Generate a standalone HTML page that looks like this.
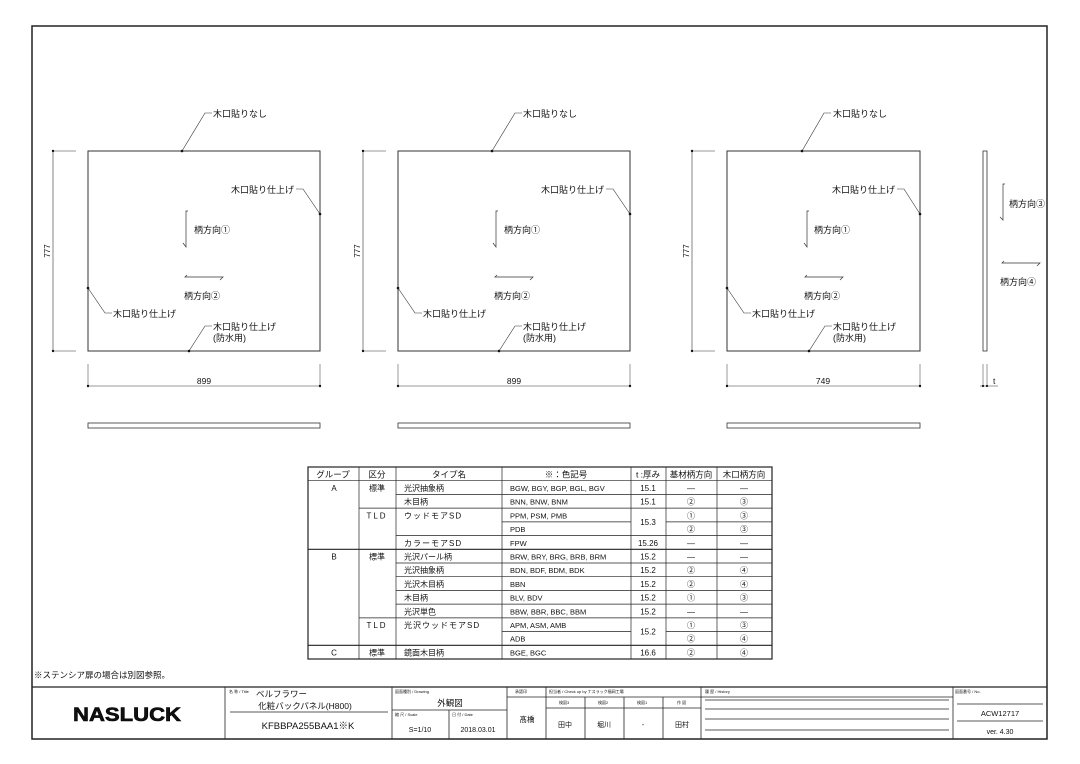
<!DOCTYPE html>
<html><head><meta charset="utf-8"><style>
html,body{margin:0;padding:0;background:#fff;}
svg{display:block;font-family:"Liberation Sans","Noto Sans CJK JP",sans-serif;}
text{fill:#111;}
</style></head><body>
<svg width="1080" height="764" viewBox="0 0 1080 764" xmlns="http://www.w3.org/2000/svg">
<rect x="0" y="0" width="1080" height="764" fill="#fff"/>
<rect x="32" y="26" width="1015" height="713" fill="none" stroke="#222" stroke-width="1.5"/>

<g stroke="#333" stroke-width="1" fill="none">
 <rect x="88" y="151" width="232" height="200"/>
 <line x1="53" y1="151" x2="53" y2="351" stroke-width="0.6"/>
 <line x1="53" y1="151" x2="76" y2="151" stroke-width="0.6"/>
 <line x1="53" y1="351" x2="76" y2="351" stroke-width="0.6"/>
 <line x1="88" y1="386" x2="320" y2="386" stroke-width="0.6"/>
 <line x1="88" y1="364" x2="88" y2="386" stroke-width="0.5"/>
 <line x1="320" y1="364" x2="320" y2="386" stroke-width="0.5"/>
 <rect x="88" y="423" width="232" height="5" stroke-width="0.8"/>
 <polyline points="182,151 205,113 212,113" stroke-width="0.6"/>
 <polyline points="296,189 303,189 320,214" stroke-width="0.6"/>
 <polyline points="88,288 105,313 112,313" stroke-width="0.6"/>
 <polyline points="189,351 205,326 212,326" stroke-width="0.6"/>
 <polyline points="188,211 186,211 186,247 183,243" stroke-width="0.7"/>
 <polyline points="187,275 185,277 223,277 220,280" stroke-width="0.7"/>

 <rect x="398" y="151" width="232" height="200"/>
 <line x1="363" y1="151" x2="363" y2="351" stroke-width="0.6"/>
 <line x1="363" y1="151" x2="386" y2="151" stroke-width="0.6"/>
 <line x1="363" y1="351" x2="386" y2="351" stroke-width="0.6"/>
 <line x1="398" y1="386" x2="630" y2="386" stroke-width="0.6"/>
 <line x1="398" y1="364" x2="398" y2="386" stroke-width="0.5"/>
 <line x1="630" y1="364" x2="630" y2="386" stroke-width="0.5"/>
 <rect x="398" y="423" width="232" height="5" stroke-width="0.8"/>
 <polyline points="492,151 515,113 522,113" stroke-width="0.6"/>
 <polyline points="606,189 613,189 630,214" stroke-width="0.6"/>
 <polyline points="398,288 415,313 422,313" stroke-width="0.6"/>
 <polyline points="499,351 515,326 522,326" stroke-width="0.6"/>
 <polyline points="498,211 496,211 496,247 493,243" stroke-width="0.7"/>
 <polyline points="497,275 495,277 533,277 530,280" stroke-width="0.7"/>

 <rect x="727" y="151" width="193" height="200"/>
 <line x1="692" y1="151" x2="692" y2="351" stroke-width="0.6"/>
 <line x1="692" y1="151" x2="715" y2="151" stroke-width="0.6"/>
 <line x1="692" y1="351" x2="715" y2="351" stroke-width="0.6"/>
 <line x1="727" y1="386" x2="920" y2="386" stroke-width="0.6"/>
 <line x1="727" y1="364" x2="727" y2="386" stroke-width="0.5"/>
 <line x1="920" y1="364" x2="920" y2="386" stroke-width="0.5"/>
 <rect x="727" y="423" width="193" height="5" stroke-width="0.8"/>
 <polyline points="802,151 824,113 831,113" stroke-width="0.6"/>
 <polyline points="897,189 904,189 920,214" stroke-width="0.6"/>
 <polyline points="727,288 744,313 751,313" stroke-width="0.6"/>
 <polyline points="809,351 825,326 832,326" stroke-width="0.6"/>
 <polyline points="809,211 807,211 807,247 804,243" stroke-width="0.7"/>
 <polyline points="807,275 805,277 843,277 840,280" stroke-width="0.7"/>

 <rect x="983" y="151" width="4" height="200" stroke-width="0.8"/>
 <line x1="983" y1="364" x2="983" y2="386" stroke-width="0.5"/>
 <line x1="987" y1="364" x2="987" y2="386" stroke-width="0.5"/>
 <line x1="980" y1="386" x2="998" y2="386" stroke-width="0.5"/>
 <polyline points="1005,184 1003,184 1003,220 1000,217" stroke-width="0.7"/>
 <polyline points="1004,261 1002,263 1040,263 1037,266" stroke-width="0.7"/>
</g>
<g fill="#111">
 <circle cx="53" cy="151" r="1.2"/><circle cx="53" cy="351" r="1.2"/><circle cx="88" cy="386" r="1.2"/><circle cx="320" cy="386" r="1.2"/>
 <circle cx="182" cy="151" r="1.3"/><circle cx="320" cy="214" r="1.3"/><circle cx="88" cy="288" r="1.3"/><circle cx="189" cy="351" r="1.3"/>
 <circle cx="363" cy="151" r="1.2"/><circle cx="363" cy="351" r="1.2"/><circle cx="398" cy="386" r="1.2"/><circle cx="630" cy="386" r="1.2"/>
 <circle cx="492" cy="151" r="1.3"/><circle cx="630" cy="214" r="1.3"/><circle cx="398" cy="288" r="1.3"/><circle cx="499" cy="351" r="1.3"/>
 <circle cx="692" cy="151" r="1.2"/><circle cx="692" cy="351" r="1.2"/><circle cx="727" cy="386" r="1.2"/><circle cx="920" cy="386" r="1.2"/>
 <circle cx="802" cy="151" r="1.3"/><circle cx="920" cy="214" r="1.3"/><circle cx="727" cy="288" r="1.3"/><circle cx="809" cy="351" r="1.3"/>
 <circle cx="983" cy="386" r="1.1"/><circle cx="987" cy="386" r="1.1"/>
</g>

<g font-size="9">
 <text x="213" y="117">木口貼りなし</text>
 <text x="294" y="193" text-anchor="end">木口貼り仕上げ</text>
 <text x="194" y="233">柄方向①</text>
 <text x="184" y="299">柄方向②</text>
 <text x="113" y="317">木口貼り仕上げ</text>
 <text x="213" y="330">木口貼り仕上げ</text>
 <text x="213" y="341">(防水用)</text>
 <text x="204" y="384" text-anchor="middle" font-size="8.5">899</text>
 <text transform="translate(50,251) rotate(-90)" text-anchor="middle" font-size="8">777</text>

 <text x="523" y="117">木口貼りなし</text>
 <text x="604" y="193" text-anchor="end">木口貼り仕上げ</text>
 <text x="504" y="233">柄方向①</text>
 <text x="494" y="299">柄方向②</text>
 <text x="423" y="317">木口貼り仕上げ</text>
 <text x="523" y="330">木口貼り仕上げ</text>
 <text x="523" y="341">(防水用)</text>
 <text x="514" y="384" text-anchor="middle" font-size="8.5">899</text>
 <text transform="translate(360,251) rotate(-90)" text-anchor="middle" font-size="8">777</text>

 <text x="833" y="117">木口貼りなし</text>
 <text x="895" y="193" text-anchor="end">木口貼り仕上げ</text>
 <text x="814" y="233">柄方向①</text>
 <text x="804" y="299">柄方向②</text>
 <text x="752" y="317">木口貼り仕上げ</text>
 <text x="833" y="330">木口貼り仕上げ</text>
 <text x="833" y="341">(防水用)</text>
 <text x="823" y="384" text-anchor="middle" font-size="8.5">749</text>
 <text transform="translate(689,251) rotate(-90)" text-anchor="middle" font-size="8">777</text>

 <text x="1009" y="207">柄方向③</text>
 <text x="1000" y="285">柄方向④</text>
 <text x="993" y="384" font-size="8.5">t</text>
</g>

<!-- Table -->
<g stroke="#222" stroke-width="0.7" fill="none">
 <rect x="308" y="467" width="464" height="192" stroke-width="1.2"/>
 <line x1="359" y1="467" x2="359" y2="659"/>
 <line x1="396" y1="467" x2="396" y2="659"/>
 <line x1="502" y1="467" x2="502" y2="659"/>
 <line x1="631" y1="467" x2="631" y2="659"/>
 <line x1="666" y1="467" x2="666" y2="659"/>
 <line x1="717" y1="467" x2="717" y2="659"/>
 <line x1="308" y1="480.7" x2="772" y2="480.7"/>
 <line x1="396" y1="494.4" x2="772" y2="494.4"/>
 <line x1="359" y1="508.1" x2="772" y2="508.1"/>
 <line x1="502" y1="521.9" x2="631" y2="521.9"/>
 <line x1="666" y1="521.9" x2="772" y2="521.9"/>
 <line x1="396" y1="535.6" x2="772" y2="535.6"/>
 <line x1="308" y1="549.3" x2="772" y2="549.3" stroke-width="1.2"/>
 <line x1="396" y1="563" x2="772" y2="563"/>
 <line x1="396" y1="576.7" x2="772" y2="576.7"/>
 <line x1="396" y1="590.4" x2="772" y2="590.4"/>
 <line x1="396" y1="604.1" x2="772" y2="604.1"/>
 <line x1="359" y1="617.9" x2="772" y2="617.9"/>
 <line x1="502" y1="631.6" x2="631" y2="631.6"/>
 <line x1="666" y1="631.6" x2="772" y2="631.6"/>
 <line x1="308" y1="645.3" x2="772" y2="645.3" stroke-width="1.2"/>
</g>
<g font-size="8.5">
 <text x="333" y="477.5" text-anchor="middle">グループ</text>
 <text x="377" y="477.5" text-anchor="middle">区分</text>
 <text x="449" y="477.5" text-anchor="middle">タイプ名</text>
 <text x="566" y="477.5" text-anchor="middle">※：色記号</text>
 <text x="648" y="477.5" text-anchor="middle">t :厚み</text>
 <text x="691" y="477.5" text-anchor="middle">基材柄方向</text>
 <text x="744" y="477.5" text-anchor="middle">木口柄方向</text>
</g>
<g font-size="8">
 <text x="334" y="491" text-anchor="middle">A</text>
 <text x="377" y="491" text-anchor="middle">標準</text>
 <text x="404" y="491">光沢抽象柄</text><text x="510" y="491" font-size="7.5">BGW, BGY, BGP, BGL, BGV</text><text x="648" y="491" text-anchor="middle">15.1</text><text x="691" y="491" text-anchor="middle">—</text><text x="744" y="491" text-anchor="middle">—</text>
 <text x="404" y="504.7">木目柄</text><text x="510" y="504.7" font-size="7.5">BNN, BNW, BNM</text><text x="648" y="504.7" text-anchor="middle">15.1</text><text x="691" y="504.7" text-anchor="middle">②</text><text x="744" y="504.7" text-anchor="middle">③</text>
 <text x="377" y="518.4" text-anchor="middle" letter-spacing="2">TLD</text>
 <text x="404" y="518.4" letter-spacing="1">ウッドモアSD</text><text x="510" y="518.4" font-size="7.5">PPM, PSM, PMB</text><text x="648" y="525" text-anchor="middle">15.3</text><text x="691" y="518.4" text-anchor="middle">①</text><text x="744" y="518.4" text-anchor="middle">③</text>
 <text x="510" y="532.1" font-size="7.5">PDB</text><text x="691" y="532.1" text-anchor="middle">②</text><text x="744" y="532.1" text-anchor="middle">③</text>
 <text x="404" y="545.8" letter-spacing="1">カラーモアSD</text><text x="510" y="545.8" font-size="7.5">FPW</text><text x="648" y="545.8" text-anchor="middle">15.26</text><text x="691" y="545.8" text-anchor="middle">—</text><text x="744" y="545.8" text-anchor="middle">—</text>
 <text x="334" y="559.5" text-anchor="middle">B</text>
 <text x="377" y="559.5" text-anchor="middle">標準</text>
 <text x="404" y="559.5">光沢パール柄</text><text x="510" y="559.5" font-size="7.5">BRW, BRY, BRG, BRB, BRM</text><text x="648" y="559.5" text-anchor="middle">15.2</text><text x="691" y="559.5" text-anchor="middle">—</text><text x="744" y="559.5" text-anchor="middle">—</text>
 <text x="404" y="573.2">光沢抽象柄</text><text x="510" y="573.2" font-size="7.5">BDN, BDF, BDM, BDK</text><text x="648" y="573.2" text-anchor="middle">15.2</text><text x="691" y="573.2" text-anchor="middle">②</text><text x="744" y="573.2" text-anchor="middle">④</text>
 <text x="404" y="586.9">光沢木目柄</text><text x="510" y="586.9" font-size="7.5">BBN</text><text x="648" y="586.9" text-anchor="middle">15.2</text><text x="691" y="586.9" text-anchor="middle">②</text><text x="744" y="586.9" text-anchor="middle">④</text>
 <text x="404" y="600.6">木目柄</text><text x="510" y="600.6" font-size="7.5">BLV, BDV</text><text x="648" y="600.6" text-anchor="middle">15.2</text><text x="691" y="600.6" text-anchor="middle">①</text><text x="744" y="600.6" text-anchor="middle">③</text>
 <text x="404" y="614.3">光沢単色</text><text x="510" y="614.3" font-size="7.5">BBW, BBR, BBC, BBM</text><text x="648" y="614.3" text-anchor="middle">15.2</text><text x="691" y="614.3" text-anchor="middle">—</text><text x="744" y="614.3" text-anchor="middle">—</text>
 <text x="377" y="628" text-anchor="middle" letter-spacing="2">TLD</text>
 <text x="404" y="628" letter-spacing="1">光沢ウッドモアSD</text><text x="510" y="628" font-size="7.5">APM, ASM, AMB</text><text x="648" y="634.6" text-anchor="middle">15.2</text><text x="691" y="628" text-anchor="middle">①</text><text x="744" y="628" text-anchor="middle">③</text>
 <text x="510" y="641.7" font-size="7.5">ADB</text><text x="691" y="641.7" text-anchor="middle">②</text><text x="744" y="641.7" text-anchor="middle">④</text>
 <text x="334" y="655.4" text-anchor="middle">C</text>
 <text x="377" y="655.4" text-anchor="middle">標準</text>
 <text x="404" y="655.4">鏡面木目柄</text><text x="510" y="655.4" font-size="7.5">BGE, BGC</text><text x="648" y="655.4" text-anchor="middle">16.6</text><text x="691" y="655.4" text-anchor="middle">②</text><text x="744" y="655.4" text-anchor="middle">④</text>
</g>

<text x="34" y="678" font-size="8.5">※ステンシア扉の場合は別図参照。</text>

<g stroke="#222" stroke-width="0.8" fill="none">
 <line x1="32" y1="687" x2="1047" y2="687" stroke-width="1.2"/>
 <line x1="225" y1="687" x2="225" y2="739"/>
 <line x1="392" y1="687" x2="392" y2="739"/>
 <line x1="507" y1="687" x2="507" y2="739"/>
 <line x1="546" y1="687" x2="546" y2="739"/>
 <line x1="701" y1="687" x2="701" y2="739"/>
 <line x1="953" y1="687" x2="953" y2="739"/>
 <line x1="230" y1="712" x2="388" y2="712"/>
 <line x1="392" y1="710" x2="507" y2="710"/>
 <line x1="449" y1="710" x2="449" y2="739"/>
 <line x1="507" y1="697" x2="701" y2="697"/>
 <line x1="546" y1="708" x2="701" y2="708"/>
 <line x1="585" y1="697" x2="585" y2="739"/>
 <line x1="624" y1="697" x2="624" y2="739"/>
 <line x1="663" y1="697" x2="663" y2="739"/>
 <line x1="701" y1="697" x2="953" y2="697"/>
 <line x1="705" y1="700" x2="949" y2="700"/>
 <line x1="705" y1="709" x2="949" y2="709"/>
 <line x1="705" y1="719" x2="949" y2="719"/>
 <line x1="705" y1="730" x2="949" y2="730"/>
 <line x1="957" y1="704" x2="1043" y2="704"/>
 <line x1="957" y1="721" x2="1043" y2="721"/>
</g>
<text x="127" y="721" font-size="19" font-weight="bold" text-anchor="middle" textLength="108" lengthAdjust="spacingAndGlyphs" stroke="#000" stroke-width="0.6" font-family="Liberation Sans, sans-serif">NASLUCK</text>
<g font-size="4" fill="#444">
 <text x="229" y="693">名 称 / Title</text>
 <text x="395" y="693">図面種別 / Drawing</text>
 <text x="395" y="716">縮 尺 / Scale</text>
 <text x="452" y="716">日 付 / Date</text>
 <text x="515" y="693">承認印</text>
 <text x="549" y="693">担当者 / Check up by ナスラック福岡工場</text>
 <text x="559" y="704">検図3</text><text x="598" y="704">検図2</text><text x="637" y="704">検図1</text><text x="677" y="704">作 図</text>
 <text x="705" y="693">履 歴 / History</text>
 <text x="955" y="693">図面番号 / No.</text>
</g>
<g font-size="8.5">
 <text x="256" y="697">ベルフラワー</text>
 <text x="305" y="709" text-anchor="middle">化粧バックパネル(H800)</text>
 <text x="308" y="729" text-anchor="middle" font-size="9.5">KFBBPA255BAA1※K</text>
 <text x="450" y="706" text-anchor="middle">外観図</text>
 <text x="420" y="732" text-anchor="middle" font-size="7">S=1/10</text>
 <text x="478" y="732" text-anchor="middle" font-size="7">2018.03.01</text>
 <text x="527" y="722" text-anchor="middle" font-size="7.5">髙橋</text>
 <text x="565" y="727" text-anchor="middle" font-size="7">田中</text>
 <text x="604" y="727" text-anchor="middle" font-size="7">堀川</text>
 <text x="643" y="727" text-anchor="middle" font-size="7">-</text>
 <text x="682" y="727" text-anchor="middle" font-size="7">田村</text>
 <text x="1000" y="716" text-anchor="middle" font-size="7.5">ACW12717</text>
 <text x="1000" y="734" text-anchor="middle" font-size="7">ver. 4.30</text>
</g>
</svg>
</body></html>
